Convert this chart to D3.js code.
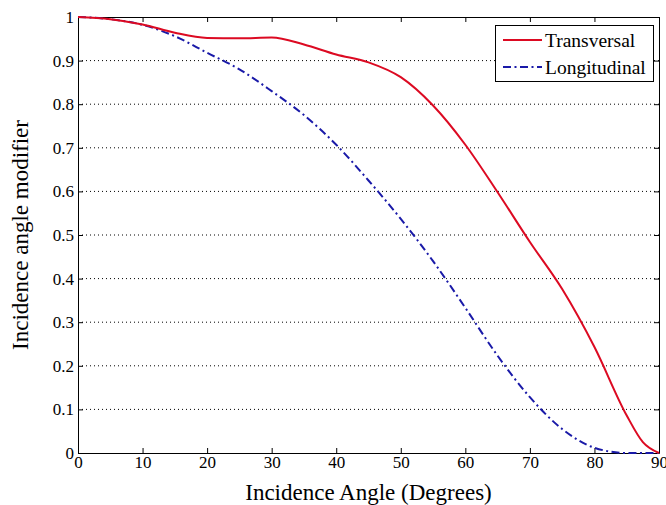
<!DOCTYPE html>
<html>
<head>
<meta charset="utf-8">
<script src="https://cdn.jsdelivr.net/npm/d3@7"></script>
<style>
  body { margin: 0; background: #fff; }
  text { font-family: "Liberation Serif", "Times New Roman", serif; fill: #000; }
</style>
</head>
<body>
<svg id="chart" width="666" height="505"></svg>
<script>
// incidence angles (degrees)
var angles = [0, 5, 10, 15, 20, 25, 30, 35, 40, 45, 50, 55, 60, 65, 70, 75, 80, 85, 87.5, 90];
// transversal IAM
var transversal = [1.0, 0.995, 0.983, 0.964, 0.952, 0.951, 0.953, 0.937, 0.914, 0.896, 0.862, 0.797, 0.707, 0.598, 0.484, 0.376, 0.243, 0.086, 0.025, 0.0];
// longitudinal IAM
var longitudinal = [1.0, 0.995, 0.982, 0.956, 0.918, 0.88, 0.83, 0.775, 0.707, 0.625, 0.537, 0.44, 0.333, 0.223, 0.128, 0.055, 0.012, 0.0, 0.0, 0.0];
var xTicks = [0, 10, 20, 30, 40, 50, 60, 70, 80, 90];
var yTicks = [0, 0.1, 0.2, 0.3, 0.4, 0.5, 0.6, 0.7, 0.8, 0.9, 1];
var seriesNames = ["Transversal", "Longitudinal"];

function run() {
  var left = 78, right = 659, top = 17, bottom = 453;
  var svg = d3.select("#chart");

  var x = d3.scaleLinear().domain([0, 90]).range([left, right]);
  var y = d3.scaleLinear().domain([0, 1]).range([bottom, top]);

  // horizontal dotted grid
  svg.append("g")
    .selectAll("line")
    .data(yTicks.filter(function (d) { return d > 0 && d < 1; }))
    .enter()
    .append("line")
    .attr("x1", left).attr("x2", right)
    .attr("y1", function (d) { return y(d); })
    .attr("y2", function (d) { return y(d); })
    .attr("stroke", "#000")
    .attr("stroke-width", 1)
    .attr("stroke-dasharray", "1,3");

  // axes with inward ticks
  var fmt = function (d) { return d3.format("~g")(d); };
  var axB = svg.append("g").attr("transform", "translate(0," + bottom + ")")
    .call(d3.axisBottom(x).tickValues(xTicks).tickSizeInner(-5).tickSizeOuter(0).tickPadding(3).tickFormat(fmt));
  var axT = svg.append("g").attr("transform", "translate(0," + top + ")")
    .call(d3.axisTop(x).tickValues(xTicks).tickSizeInner(-5).tickSizeOuter(0).tickFormat(""));
  var axL = svg.append("g").attr("transform", "translate(" + left + ",0)")
    .call(d3.axisLeft(y).tickValues(yTicks).tickSizeInner(-5).tickSizeOuter(0).tickPadding(4).tickFormat(fmt));
  var axR = svg.append("g").attr("transform", "translate(" + right + ",0)")
    .call(d3.axisRight(y).tickValues(yTicks).tickSizeInner(-5).tickSizeOuter(0).tickFormat(""));

  [axB, axT, axL, axR].forEach(function (a) {
    a.attr("font-family", "Liberation Serif");
    a.selectAll("path").attr("stroke", "#000").attr("stroke-width", 1);
    a.selectAll("line").attr("stroke", "#000");
    a.selectAll("text").style("font-family", "Liberation Serif").style("font-size", "17px").attr("fill", "#000");
  });
  axB.selectAll(".tick text").attr("dy", "0.72em");

  // curves
  var line = d3.line().curve(d3.curveMonotoneX)
    .x(function (d) { return x(d[0]); })
    .y(function (d) { return y(d[1]); });

  svg.append("path")
    .datum(d3.zip(angles, longitudinal))
    .attr("fill", "none")
    .attr("stroke", "#1a1aa8")
    .attr("stroke-width", 2)
    .attr("stroke-dasharray", "8,3.5,2,3.5")
    .attr("d", line);

  svg.append("path")
    .datum(d3.zip(angles, transversal))
    .attr("fill", "none")
    .attr("stroke", "#dc0a22")
    .attr("stroke-width", 2)
    .attr("d", line);

  // legend
  var lg = svg.append("g");
  lg.append("rect")
    .attr("x", 495.5).attr("y", 25.5).attr("width", 158).attr("height", 56)
    .attr("fill", "#fff").attr("stroke", "#000").attr("stroke-width", 1);
  var styles = [
    { stroke: "#dc0a22", dash: null },
    { stroke: "#1a1aa8", dash: "8,3.5,2,3.5" }
  ];
  seriesNames.forEach(function (name, i) {
    var yy = 40 + i * 27;
    lg.append("line")
      .attr("x1", 503).attr("x2", 542).attr("y1", yy).attr("y2", yy)
      .attr("stroke", styles[i].stroke).attr("stroke-width", 2)
      .attr("stroke-dasharray", styles[i].dash);
    lg.append("text")
      .attr("x", 545).attr("y", yy).attr("dy", "0.35em")
      .style("font-size", "19.5px")
      .text(name);
  });

  // axis titles
  svg.append("text")
    .attr("x", (left + right) / 2).attr("y", 500)
    .attr("text-anchor", "middle")
    .style("font-size", "23px")
    .text("Incidence Angle (Degrees)");

  svg.append("text")
    .attr("transform", "translate(28," + ((top + bottom) / 2) + ") rotate(-90)")
    .attr("text-anchor", "middle")
    .style("font-size", "23px")
    .text("Incidence angle modifier");
}

run();
</script>
</body>
</html>
